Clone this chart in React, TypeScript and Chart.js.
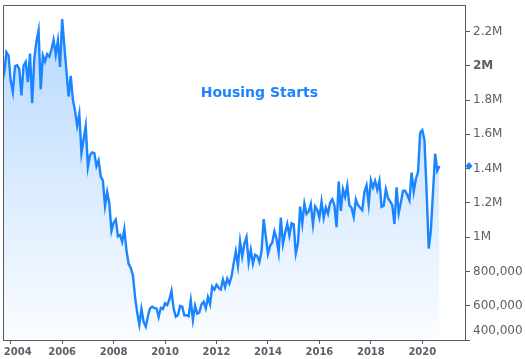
import React, { useEffect, useRef } from "react";
import { Chart, registerables } from "chart.js";

Chart.register(...registerables);

// Monthly housing starts (thousands, SAAR), starting September 2003
const START_YEAR = 2003;
const START_MONTH = 9;
const housingStarts: number[] = [
  // 2003 Sep-Dec
  1900, 1960, 2080, 2060,
  // 2004
  1911, 1846, 1998, 2003, 1981, 1828, 2002, 2024, 1905, 2072, 1782, 2042,
  // 2005
  2144, 2207, 1864, 2061, 2025, 2068, 2054, 2095, 2151, 2065, 2147, 1994,
  // 2006
  2273, 2119, 1969, 1821, 1942, 1802, 1737, 1650, 1720, 1491, 1570, 1649,
  // 2007
  1409, 1480, 1495, 1490, 1415, 1448, 1354, 1330, 1183, 1264, 1197, 1037,
  // 2008
  1084, 1103, 1005, 1013, 973, 1046, 923, 844, 820, 777, 652, 560,
  // 2009
  490, 582, 505, 478, 540, 585, 594, 586, 585, 534, 588, 581,
  // 2010
  614, 604, 636, 687, 583, 536, 546, 599, 594, 543, 545, 539,
  // 2011
  630, 517, 600, 554, 561, 608, 623, 585, 650, 610, 711, 694,
  // 2012
  723, 704, 695, 753, 708, 757, 728, 770, 847, 917, 833, 976,
  // 2013
  888, 962, 1001, 853, 927, 845, 898, 889, 855, 918, 1105, 1003,
  // 2014
  902, 949, 969, 1034, 991, 911, 1115, 961, 1025, 1078, 1009, 1081,
  // 2015
  1075, 905, 964, 1178, 1079, 1196, 1135, 1151, 1194, 1073, 1179, 1160,
  // 2016
  1114, 1208, 1113, 1173, 1137, 1201, 1221, 1186, 1058, 1325, 1154, 1279,
  // 2017
  1235, 1303, 1186, 1172, 1118, 1220, 1187, 1172, 1158, 1265, 1303, 1192,
  // 2018
  1333, 1290, 1327, 1276, 1329, 1177, 1184, 1280, 1229, 1209, 1187, 1077,
  // 2019
  1291, 1140, 1203, 1270, 1271, 1246, 1215, 1377, 1266, 1340, 1380, 1609,
  // 2020 Jan-Sep
  1624, 1567, 1269, 934, 1038, 1265, 1487, 1388, 1415,
];

const xTickYears = [2004, 2006, 2008, 2010, 2012, 2014, 2016, 2018, 2020];
const yTickValues = [400, 600, 800, 1000, 1200, 1400, 1600, 1800, 2000, 2200];
const TITLE = "Housing Starts";

const X_MIN = 2003.7;
const X_MAX = 2021.66;
const Y_MIN = 400;
const Y_MAX = 2355;

const BLUE = "#1a85ff";
const AXIS = "#5a5a5a";
const LABEL = "#5b6069";
const FONT = "'DejaVu Sans', Verdana, sans-serif";

function formatY(v: number): string | string[] {
  if (v >= 1000) return `${v / 1000}M`;
  const s = (v * 1000).toLocaleString("en-US");
  // bottom label sits inside the plot, above the axis end
  return v === yTickValues[0] ? [s, ""] : s;
}

function formatX(v: number): string {
  // first label is nudged right so it stays inside the plot
  return v === xTickYears[0] ? `\u2007\u2007${v}` : String(v);
}

export default function App() {
  const ref = useRef<HTMLCanvasElement>(null);

  useEffect(() => {
    document.body.style.margin = "0";
    const canvas = ref.current;
    if (!canvas) return;

    const points = housingStarts.map((v, i) => ({
      x: START_YEAR + (START_MONTH - 1 + i) / 12,
      y: v,
    }));
    const last = housingStarts[housingStarts.length - 1];

    const framePlugin = {
      id: "frame",
      afterDatasetsDraw(chart: any) {
        const { ctx, chartArea: a } = chart;
        ctx.save();
        ctx.strokeStyle = AXIS;
        ctx.lineWidth = 1;
        ctx.beginPath();
        ctx.moveTo(Math.round(a.left) + 0.5, Math.round(a.bottom));
        ctx.lineTo(Math.round(a.left) + 0.5, Math.round(a.top) + 0.5);
        ctx.lineTo(Math.round(a.right), Math.round(a.top) + 0.5);
        ctx.stroke();
        ctx.restore();
      },
    };

    const overlayPlugin = {
      id: "overlay",
      afterDraw(chart: any) {
        const { ctx, chartArea: a, scales } = chart;
        ctx.save();
        // title
        ctx.fillStyle = BLUE;
        ctx.font = `bold 14px ${FONT}`;
        ctx.textAlign = "center";
        ctx.textBaseline = "middle";
        ctx.fillText(TITLE, a.left + (a.right - a.left) * 0.555, a.top + 88);
        // last value marker on the axis
        const yy = scales.y.getPixelForValue(last);
        const xx = a.right + 4;
        ctx.fillStyle = BLUE;
        ctx.beginPath();
        ctx.moveTo(xx, yy - 4);
        ctx.lineTo(xx + 3.5, yy);
        ctx.lineTo(xx, yy + 4);
        ctx.lineTo(xx - 3.5, yy);
        ctx.closePath();
        ctx.fill();
        ctx.restore();
      },
    };

    const chart = new Chart(canvas, {
      type: "line",
      data: {
        datasets: [
          {
            data: points,
            borderColor: BLUE,
            borderWidth: 2.4,
            pointRadius: 0,
            tension: 0,
            fill: "start",
            backgroundColor: (c: any) => {
              const area = c.chart.chartArea;
              if (!area) return "rgba(26,133,255,0.2)";
              const g = c.chart.ctx.createLinearGradient(0, area.top, 0, area.bottom);
              g.addColorStop(0, "rgba(26,133,255,0.33)");
              g.addColorStop(1, "rgba(26,133,255,0.02)");
              return g;
            },
          },
        ],
      },
      options: {
        animation: false,
        responsive: false,
        layout: { padding: { left: 3, top: 5, right: 0, bottom: 0 } },
        plugins: { legend: { display: false }, tooltip: { enabled: false } },
        scales: {
          x: {
            type: "linear",
            min: X_MIN,
            max: X_MAX,
            afterBuildTicks: (s: any) => {
              s.ticks = xTickYears.map((v) => ({ value: v }));
            },
            afterFit: (s: any) => {
              s.height = 19;
              s.paddingLeft = 0;
              s.paddingRight = 0;
            },
            ticks: {
              callback: (v: any) => formatX(Number(v)),
              color: LABEL,
              font: { family: FONT, size: 10, weight: "bold" },
              padding: 2,
              maxRotation: 0,
              autoSkip: false,
            },
            grid: { drawOnChartArea: false, drawTicks: true, tickLength: 4, color: AXIS },
            border: { color: AXIS, width: 1 },
          },
          y: {
            type: "linear",
            position: "right",
            min: Y_MIN,
            max: Y_MAX,
            afterBuildTicks: (s: any) => {
              s.ticks = yTickValues.map((v) => ({ value: v }));
            },
            afterFit: (s: any) => {
              s.width = 60;
              s.paddingTop = 0;
              s.paddingBottom = 0;
            },
            ticks: {
              callback: (v: any) => formatY(Number(v)),
              color: LABEL,
              font: (c: any) => ({
                family: FONT,
                size: 12,
                lineHeight: 1.5,
                weight: c.tick && c.tick.value === 2000 ? "bold" : "normal",
              }),
              padding: 3,
              autoSkip: false,
            },
            grid: { drawOnChartArea: false, drawTicks: true, tickLength: 5, color: AXIS },
            border: { color: AXIS, width: 1 },
          },
        },
      },
      plugins: [framePlugin, overlayPlugin],
    } as any);

    return () => chart.destroy();
  }, []);

  return (
    <div style={{ width: 525, height: 359 }}>
      <canvas ref={ref} width={525} height={359} style={{ display: "block" }} />
    </div>
  );
}
